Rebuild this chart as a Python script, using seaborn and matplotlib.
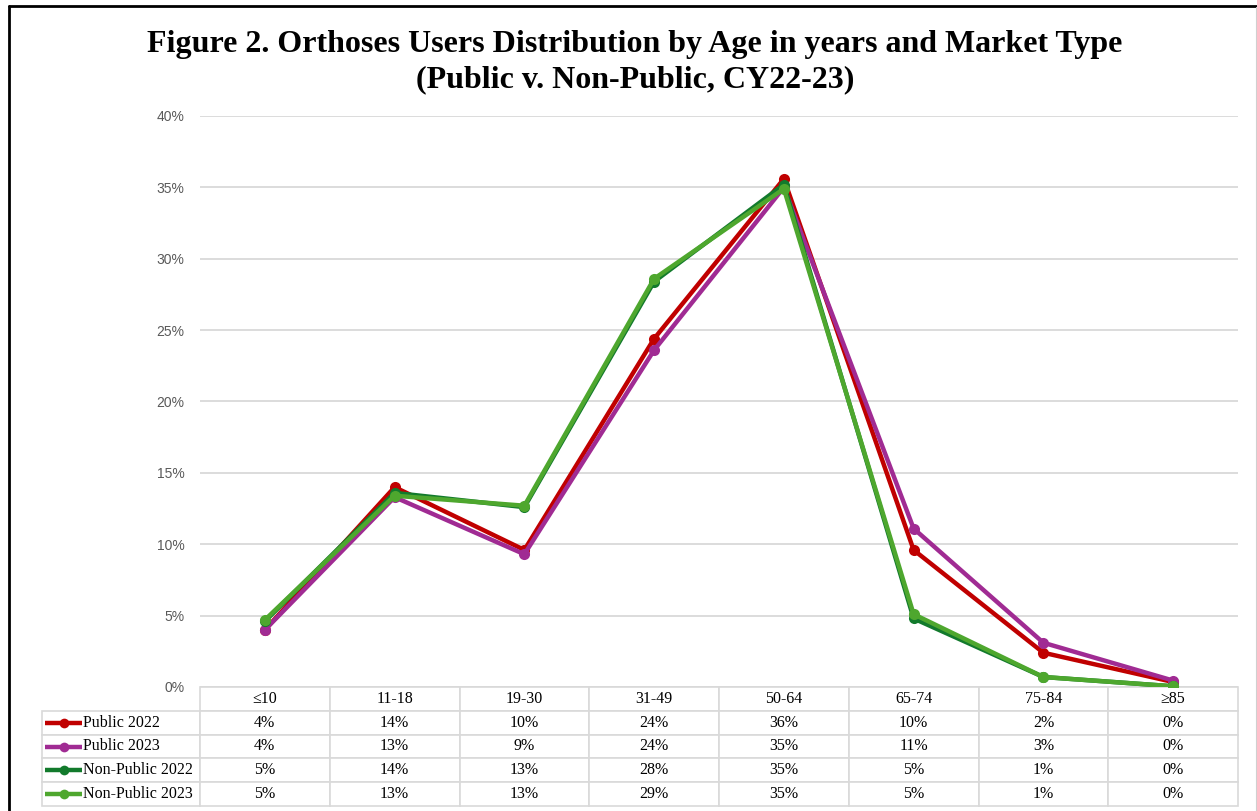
import numpy as np
import pandas as pd
import matplotlib
matplotlib.use("Agg")
import matplotlib.pyplot as plt
import matplotlib.ticker as mtick
from matplotlib.lines import Line2D
import seaborn as sns

# data (percent of users)
age_groups = ["≤10", "11-18", "19-30", "31-49", "50-64", "65-74", "75-84", "≥85"]
series_names = ["Public 2022", "Public 2023", "Non-Public 2022", "Non-Public 2023"]
public_2022 = [4.0, 14.0, 9.6, 24.4, 35.6, 9.6, 2.4, 0.35]
public_2023 = [4.0, 13.3, 9.3, 23.6, 35.0, 11.1, 3.1, 0.45]
nonpublic_2022 = [4.6, 13.6, 12.6, 28.4, 35.2, 4.8, 0.7, 0.05]
nonpublic_2023 = [4.7, 13.4, 12.7, 28.6, 34.9, 5.1, 0.7, 0.05]
colors = ["#C00000", "#A02B93", "#127A2C", "#4EA72E"]

all_values = [public_2022, public_2023, nonpublic_2022, nonpublic_2023]

# long-form frame for seaborn
df = pd.DataFrame({
    "pos": np.tile(np.arange(len(age_groups)), len(series_names)),
    "value": np.concatenate(all_values),
    "series": np.repeat(series_names, len(age_groups)),
})

sns.set_style("white")
serif = ["Liberation Serif", "DejaVu Serif"]
sans = ["Liberation Sans", "DejaVu Sans"]

W, H = 1257, 811
fig = plt.figure(figsize=(W / 100, H / 100), dpi=100)
ax = fig.add_axes([200 / W, 1 - 687 / H, 1038 / W, 571 / H])

sns.lineplot(data=df, x="pos", y="value", hue="series", hue_order=series_names,
             palette=colors, marker="o", markersize=8, markeredgewidth=0,
             linewidth=3.2, legend=False, ax=ax)

ax.set_xlim(-0.5, len(age_groups) - 0.5)
ax.set_ylim(0, 40)
ax.set_yticks(np.arange(0, 41, 5))
ax.yaxis.set_major_formatter(mtick.FuncFormatter(lambda v, _: f"{v:.0f}%"))
ax.set_xticks([])
ax.set_xlabel("")
ax.set_ylabel("")
ax.tick_params(axis="y", length=0, pad=11, labelsize=10, labelcolor="#595959")
for lab in ax.get_yticklabels():
    lab.set_fontfamily(sans)
ax.yaxis.grid(True, color="#D9D9D9", linewidth=1.3)
ax.set_axisbelow(True)
sns.despine(ax=ax, left=True, bottom=True)

# data table under the plot
label_w = 158 / 1038
tbl_h = 119 / 571
cell_text = [[""] + age_groups]
for vals in all_values:
    cell_text.append([""] + [f"{v:.0f}%" for v in vals])
col_w = [label_w] + [1 / len(age_groups)] * len(age_groups)
tbl = ax.table(cellText=cell_text, colWidths=col_w, cellLoc="center",
               bbox=[-label_w, -tbl_h, 1 + label_w, tbl_h])
tbl.auto_set_font_size(False)
tbl.set_fontsize(11.5)
for (r, c), cell in tbl.get_celld().items():
    cell.set_edgecolor("#D9D9D9")
    cell.set_linewidth(1.2)
    cell.get_text().set_fontfamily(serif)
    cell.get_text().set_color("black")
tbl[0, 0].visible_edges = ""

# legend keys in the row label column
n_rows = len(series_names) + 1
for i, (name, col) in enumerate(zip(series_names, colors)):
    yc = -tbl_h + tbl_h * (1 - (i + 1.5) / n_rows)
    ax.plot([(45 - 200) / 1038, (82 - 200) / 1038], [yc, yc], color=col, lw=3.2,
            transform=ax.transAxes, clip_on=False, solid_capstyle="butt")
    ax.plot([(64 - 200) / 1038], [yc], "o", color=col, markersize=7, markeredgewidth=0,
            transform=ax.transAxes, clip_on=False)
    ax.text((83 - 200) / 1038, yc, name, transform=ax.transAxes, ha="left",
            va="center", fontsize=11.5, fontfamily=serif, color="black")

# title
fig.text(0.505, 1 - 62 / H,
         "Figure 2. Orthoses Users Distribution by Age in years and Market Type\n"
         "(Public v. Non-Public, CY22-23)",
         ha="center", va="center", fontsize=23, fontweight="bold",
         fontfamily=serif, linespacing=1.3, color="black")

# frame around the figure
fig.add_artist(Line2D([8.5 / W, 8.5 / W], [0, 1 - 5.5 / H], color="black", lw=2))
fig.add_artist(Line2D([8.5 / W, 1], [1 - 5.5 / H, 1 - 5.5 / H], color="black", lw=2))
fig.add_artist(Line2D([1255.5 / W, 1255.5 / W], [0, 1 - 7 / H], color="#D0D0D0", lw=0.8))

fig.savefig("out.png", dpi=100)
